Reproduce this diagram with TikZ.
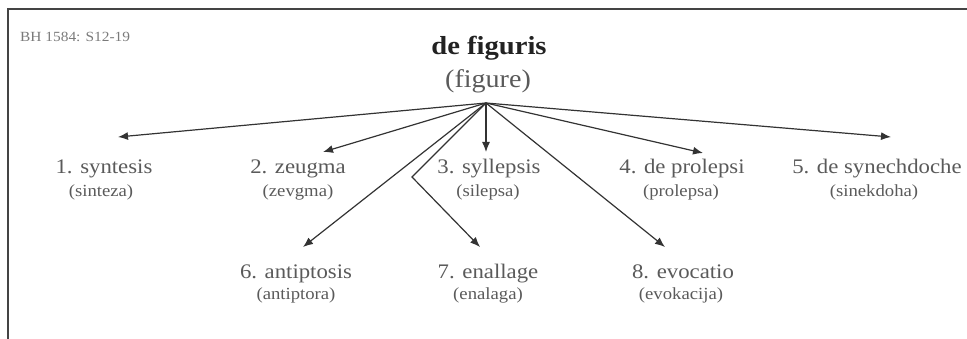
\documentclass[tikz,border=0pt]{standalone}
\usepackage{fontspec}
\setmainfont[FakeStretch=1.1]{Liberation Serif}
\usetikzlibrary{arrows.meta}
\definecolor{inkdark}{HTML}{222222}
\definecolor{inkgray}{HTML}{5A5A5A}
\definecolor{inklight}{HTML}{7A7A7A}
\definecolor{linegray}{HTML}{333333}
\definecolor{framegray}{HTML}{444444}
\tikzset{
  frameline/.style={draw=framegray, line width=1.6pt},
  titletext/.style={anchor=base, inner sep=0pt, text=inkdark, font=\fontsize{26}{30}\selectfont\bfseries},
  subtitletext/.style={anchor=base, inner sep=0pt, text=inkgray, font=\fontsize{25.5}{30}\selectfont},
  reftext/.style={anchor=base west, inner sep=0pt, text=inklight, font=\fontsize{14}{16}\selectfont},
  itemtext/.style={anchor=base, inner sep=0pt, text=inkgray, font=\fontsize{20.7}{24}\selectfont},
  glosstext/.style={anchor=base, inner sep=0pt, text=inkgray, font=\fontsize{17}{20}\selectfont},
  branch/.style={draw=linegray, line width=1.2pt, -{Latex[length=10pt,width=8pt]}}
}
\begin{document}
\begin{tikzpicture}[x=1pt,y=-1pt]
\useasboundingbox (0,0) rectangle (967,339);
\clip (0,0) rectangle (967,339);

% frame (top and left edges)
\coordinate (fTL) at (8,9);
\coordinate (fTR) at (967,9);
\coordinate (fBL) at (8,339);
\draw[frameline] (fTR) -- (fTL) -- (fBL);

% heading
\node[reftext] (ref) at (20,42) {BH 1584: S12-19};
\node[titletext] (title) at (489,55) {de figuris};
\node[subtitletext] (subtitle) at (488,88) {(figure)};

% first row of figures
\node[itemtext]  (n1)  at (104,174) {1. syntesis};
\node[glosstext] (g1)  at (101,197) {(sinteza)};
\node[itemtext]  (n2)  at (298,174) {2. zeugma};
\node[glosstext] (g2)  at (298,197) {(zevgma)};
\node[itemtext]  (n3)  at (489,174) {3. syllepsis};
\node[glosstext] (g3)  at (488,197) {(silepsa)};
\node[itemtext]  (n4)  at (682,174) {4. de prolepsi};
\node[glosstext] (g4)  at (681,197) {(prolepsa)};
\node[itemtext]  (n5)  at (877,174) {5. de synechdoche};
\node[glosstext] (g5)  at (874,197) {(sinekdoha)};

% second row of figures
\node[itemtext]  (n6)  at (296,279) {6. antiptosis};
\node[glosstext] (g6)  at (296,300) {(antiptora)};
\node[itemtext]  (n7)  at (488,279) {7. enallage};
\node[glosstext] (g7)  at (488,300) {(enalaga)};
\node[itemtext]  (n8)  at (683,279) {8. evocatio};
\node[glosstext] (g8)  at (681,300) {(evokacija)};

% branching point and arrow tips
\coordinate (root) at (486,103);
\coordinate (t1) at (118,137);
\coordinate (t2) at (323,152);
\coordinate (t3) at (486,152);
\coordinate (t4) at (703,153);
\coordinate (t5) at (891,137);
\coordinate (t6) at (303,247);
\coordinate (bend7) at (412,177);
\coordinate (t7) at (480,247);
\coordinate (t8) at (665,247);

\draw[branch] (root) -- (t1);
\draw[branch] (root) -- (t2);
\draw[branch] (root) -- (t3);
\draw[branch] (root) -- (t4);
\draw[branch] (root) -- (t5);
\draw[branch] (root) -- (t6);
\draw[branch] (root) -- (bend7) -- (t7);
\draw[branch] (root) -- (t8);
\end{tikzpicture}
\end{document}
